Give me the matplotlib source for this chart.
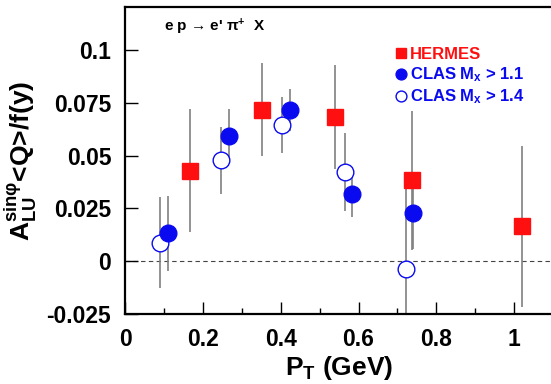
import matplotlib.pyplot as plt
from matplotlib.ticker import MultipleLocator

plt.rcParams['font.family'] = ['Liberation Sans', 'DejaVu Sans']
plt.rcParams['font.weight'] = 'bold'
plt.rcParams['mathtext.fontset'] = 'custom'
plt.rcParams['mathtext.rm'] = 'Liberation Sans:bold'
plt.rcParams['mathtext.bf'] = 'Liberation Sans:bold'
plt.rcParams['mathtext.it'] = 'Liberation Sans:bold'
plt.rcParams['mathtext.default'] = 'bf'

# HERMES
hermes_pt = [0.167, 0.351, 0.540, 0.737, 1.020]
hermes_a = [0.043, 0.0718, 0.0683, 0.0383, 0.0165]
hermes_err = [0.029, 0.022, 0.0245, 0.033, 0.0383]

# CLAS, Mx > 1.1
clas11_pt = [0.110, 0.268, 0.424, 0.583, 0.741]
clas11_a = [0.0133, 0.0592, 0.0715, 0.0317, 0.0228]
clas11_err = [0.0177, 0.013, 0.010, 0.0105, 0.017]

# CLAS, Mx > 1.4
clas14_pt = [0.090, 0.247, 0.404, 0.564, 0.722]
clas14_a = [0.0087, 0.0478, 0.0647, 0.0422, -0.0036]
clas14_err = [0.0216, 0.0157, 0.0133, 0.0184, 0.038]

red = '#ff1010'
blue = '#0a0af0'
bar_color = '#808080'

fig = plt.figure(figsize=(5.51, 3.84), dpi=100)
ax = fig.add_axes([0.2269, 0.1823, 0.777, 0.799])

ax.axhline(0, color='#444444', lw=0.8, ls=(0, (4, 3)), zorder=1)

for x, y, e in [(hermes_pt, hermes_a, hermes_err),
                (clas11_pt, clas11_a, clas11_err),
                (clas14_pt, clas14_a, clas14_err)]:
    ax.errorbar(x, y, yerr=e, fmt='none', ecolor=bar_color, elinewidth=1.2,
                capsize=0, zorder=2)

h1, = ax.plot(hermes_pt, hermes_a, 's', color=red, ms=12, mec=red, zorder=3,
              label='HERMES')
h3, = ax.plot(clas14_pt, clas14_a, 'o', mfc='white', mec=blue, mew=1.0, ms=12,
              zorder=3, label=r'CLAS M$_x$ > 1.4')
h2, = ax.plot(clas11_pt, clas11_a, 'o', color=blue, ms=12, zorder=4,
              label=r'CLAS M$_x$ > 1.1')

leg = ax.legend(handles=[h1, h2, h3], loc='upper left',
                bbox_to_anchor=(0.624, 0.875), frameon=False, fontsize=12,
                handletextpad=0.15, handlelength=0.8, labelspacing=0.2,
                markerscale=0.65, borderpad=0.1, borderaxespad=0,
                labelcolor=[red, blue, blue])

ax.text(0.09, 0.935, "e p \u2192 e' \u03c0$^{+}$  X", transform=ax.transAxes,
        fontsize=11, fontweight='bold', va='center', ha='left')

ax.set_xlim(0, 1.1)
ax.set_ylim(-0.025, 0.1204)
ax.xaxis.set_minor_locator(MultipleLocator(0.1))
ax.set_xticks([0, 0.2, 0.4, 0.6, 0.8, 1.0])
ax.set_xticklabels(['0', '0.2', '0.4', '0.6', '0.8', '1'])
ax.set_yticks([-0.025, 0, 0.025, 0.05, 0.075, 0.1])
ax.set_yticklabels(['-0.025', '0', '0.025', '0.05', '0.075', '0.1'])

ax.tick_params(which='major', direction='in', length=9, width=1.0,
               labelsize=16.5, pad=10)
ax.tick_params(axis='y', pad=10)
ax.tick_params(which='minor', direction='in', length=4.5, width=1.0)
for s in ax.spines.values():
    s.set_linewidth(1.6)

ax.set_xlabel(r'P$_T$ (GeV)', fontsize=19, fontweight='bold', labelpad=2)
ax.set_ylabel('A$^{sin\u03c6}_{LU}$<Q>/f(y)', fontsize=19, fontweight='bold',
              labelpad=2)
ax.yaxis.set_label_coords(-0.2, 0.5)

fig.savefig('out.png', dpi=100)
